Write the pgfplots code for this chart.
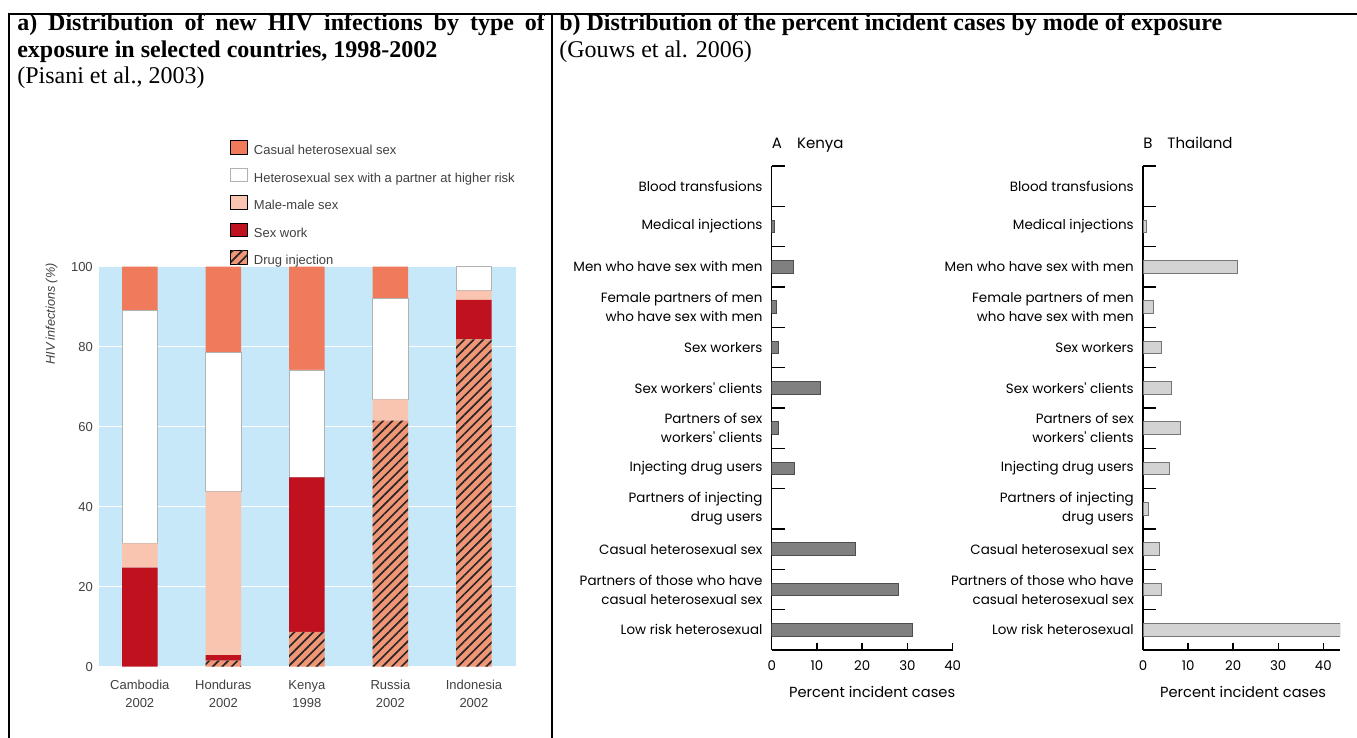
\documentclass[border=0pt]{standalone}
\usepackage{fontspec}
\setmainfont{Liberation Serif}
\newfontfamily\arialf{Liberation Sans}
\newfontfamily\futf{Poppins}
\usepackage{pgfplots}
\pgfplotsset{compat=1.18}
\usetikzlibrary{patterns.meta}
\definecolor{bgblue}{RGB}{199,232,248}
\definecolor{coral}{RGB}{240,122,92}
\definecolor{peach}{RGB}{249,196,176}
\definecolor{sexred}{RGB}{192,17,30}
\definecolor{hatchbg}{RGB}{240,150,118}
\definecolor{kgray}{RGB}{128,128,128}
\definecolor{kedge}{RGB}{78,78,78}
\definecolor{tgray}{RGB}{211,211,211}
\definecolor{tedge}{RGB}{118,118,118}
\newcommand\labfont{\futf\fontsize{10.1}{14.25}\selectfont}
\newcommand\numfont{\futf\fontsize{10}{12}\selectfont}
\newcommand\hdfont{\fontsize{18}{20.7}\selectfont}
\begin{document}
\begin{tikzpicture}
\path[use as bounding box] (0,0) rectangle (1017.75pt,553.5pt);
\begin{scope}[x=0.75pt,y=-0.75pt,shift={(0,553.5pt)}]
\draw[line width=1.5pt] (8,14) -- (1357,14);
\draw[line width=1.3pt] (9,13.5) -- (9,738);
\draw[line width=1.3pt] (552,13.5) -- (552,738);
\node[anchor=base west, inner sep=0pt, font=\hdfont\bfseries] at (17,31) {\makebox[395.8pt][s]{a) Distribution of new HIV infections by type of}};
\node[anchor=base west, inner sep=0pt, font=\hdfont\bfseries] at (17,57.5) {exposure in selected countries, 1998-2002};
\node[anchor=base west, inner sep=0pt, font=\hdfont] at (17,84) {(Pisani et al., 2003)};
\node[anchor=base west, inner sep=0pt, font=\hdfont\bfseries] at (559,31) {b) Distribution of the percent incident cases by mode of exposure};
\node[anchor=base west, inner sep=0pt, font=\hdfont] at (559,57.5) {(Gouws et al. 2006)};
\end{scope}

% ---------------- a) stacked bars
\begin{axis}[
  at={(74.25pt,53.475pt)}, anchor=south west,
  scale only axis, width=312.75pt, height=300pt,
  xmin=-0.488, xmax=4.503, ymin=0, ymax=100,
  ybar stacked, bar width=26.6pt,
  axis background/.style={fill=bgblue},
  axis line style={draw=none},
  tick style={draw=none}, major tick length=0pt,
  ytick={0,20,40,60,80,100},
  ymajorgrids, grid style={white, line width=1.2pt},
  xtick={0,1,2,3,4},
  xticklabels={{Cambodia\\2002},{Honduras\\2002},{Kenya\\1998},{Russia\\2002},{Indonesia\\2002}},
  /pgf/number format/assume math mode=true,
  tick label style={font=\arialf\fontsize{9.75}{13.7}\selectfont, text=black!75},
  xticklabel style={align=center, inner sep=0pt, yshift=-10pt},
  yticklabel style={inner sep=0pt, xshift=-4.5pt},
  ylabel={HIV infections (\%)},
  ylabel style={at={(axis description cs:-0.1134,0.8818)}, anchor=center, font=\arialf\itshape\fontsize{9.5}{11}\selectfont, text=black!75},
  reverse legend,
  legend cell align={left},
  legend image code/.code={\draw[#1] (0pt,-2pt) rectangle (12.75pt,8pt);},
  legend style={at={(axis description cs:0.31415,1.31675)}, anchor=north west, draw=none, fill=none, inner sep=0pt,
    font=\arialf\fontsize{9.75}{11}\selectfont, text=black!75, row sep=7.95pt, column sep=4.5pt,
    nodes={inner sep=0pt, text height=7pt, text depth=2pt}},
]
\addplot[fill=hatchbg, draw=none, postaction={pattern={Lines[angle=45,distance=5pt,line width=1.25pt]}, pattern color=black!85}]
  coordinates {(0,0) (1,1.5) (2,8.7) (3,61.5) (4,81.8)};
\addlegendentry{Drug injection}
\addplot[fill=sexred, draw=none]
  coordinates {(0,24.75) (1,1.4) (2,38.6) (3,0) (4,9.9)};
\addlegendentry{Sex work}
\addplot[fill=peach, draw=none]
  coordinates {(0,6.05) (1,40.85) (2,0) (3,5.35) (4,2.3)};
\addlegendentry{Male-male sex}
\addplot[fill=white, draw=black!30, line width=0.5pt]
  coordinates {(0,58.2) (1,34.85) (2,26.9) (3,25.15) (4,6.0)};
\addlegendentry{Heterosexual sex with a partner at higher risk}
\addplot[fill=coral, draw=none]
  coordinates {(0,11.0) (1,21.4) (2,25.8) (3,8.0) (4,0)};
\addlegendentry{Casual heterosexual sex}
\end{axis}

% ---------------- b) Kenya
\begin{axis}[
  at={(578.775pt,66pt)}, anchor=south west,
  scale only axis, width=135.75pt, height=363pt,
  xmin=0, xmax=40, ymin=-0.5, ymax=11.5,
  xbar, bar width=9.5pt,
  axis lines*=left, axis line style={line width=1.1pt, black},
  tick align=inside,
  xtick={0,10,20,30,40},
  ytick={0,1,2,3,4,5,6,7,8,9,10,11},
  minor ytick={0.5,1.5,2.5,3.5,4.5,5.5,6.5,7.5,8.5,9.5,10.5,11.5},
  major tick length=5pt, minor tick length=10pt,
  tick style={line width=1.1pt, black},
  major y tick style={draw=none},
  yticklabels={Low risk heterosexual,{Partners of those who have\\casual heterosexual sex},Casual heterosexual sex,{Partners of injecting\\drug users},Injecting drug users,{Partners of sex\\workers' clients},Sex workers' clients,Sex workers,{Female partners of men\\who have sex with men},Men who have sex with men,Medical injections,Blood transfusions},
  yticklabel style={align=right, font=\labfont, inner sep=0pt, xshift=-6.75pt},
  /pgf/number format/assume math mode=true,
  xticklabel style={font=\numfont, inner sep=0pt, yshift=-8pt},
  xlabel={Percent incident cases},
  xlabel style={at={(axis description cs:0.555,0)}, anchor=north, yshift=-27pt, inner sep=0pt, font=\futf\fontsize{11}{13}\selectfont},
  title={A\quad Kenya},
  title style={at={(axis description cs:0,1)}, anchor=base west, yshift=7.1pt, inner sep=0pt, font=\futf\fontsize{11.25}{13}\selectfont},
]
\addplot[fill=kgray, draw=kedge, line width=0.6pt]
  coordinates {(31.1,0) (28.0,1) (18.5,2) (5.1,4) (1.4,5) (10.7,6) (1.4,7) (1.0,8) (4.8,9) (0.7,10)};
\end{axis}

% ---------------- b) Thailand
\begin{axis}[
  at={(857.25pt,66pt)}, anchor=south west,
  scale only axis, width=147.75pt, height=363pt,
  xmin=0, xmax=43.7, ymin=-0.5, ymax=11.5,
  xbar, bar width=9.5pt,
  axis lines*=left, axis line style={line width=1.1pt, black},
  tick align=inside,
  xtick={0,10,20,30,40},
  ytick={0,1,2,3,4,5,6,7,8,9,10,11},
  minor ytick={0.5,1.5,2.5,3.5,4.5,5.5,6.5,7.5,8.5,9.5,10.5,11.5},
  major tick length=5pt, minor tick length=10pt,
  tick style={line width=1.1pt, black},
  major y tick style={draw=none},
  yticklabels={Low risk heterosexual,{Partners of those who have\\casual heterosexual sex},Casual heterosexual sex,{Partners of injecting\\drug users},Injecting drug users,{Partners of sex\\workers' clients},Sex workers' clients,Sex workers,{Female partners of men\\who have sex with men},Men who have sex with men,Medical injections,Blood transfusions},
  yticklabel style={align=right, font=\labfont, inner sep=0pt, xshift=-6.75pt},
  /pgf/number format/assume math mode=true,
  xticklabel style={font=\numfont, inner sep=0pt, yshift=-8pt},
  xlabel={Percent incident cases},
  xlabel style={at={(axis description cs:0.508,0)}, anchor=north, yshift=-27pt, inner sep=0pt, font=\futf\fontsize{11}{13}\selectfont},
  title={B\quad Thailand},
  title style={at={(axis description cs:0,1)}, anchor=base west, yshift=7.1pt, inner sep=0pt, font=\futf\fontsize{11.25}{13}\selectfont},
]
\addplot[fill=tgray, draw=tedge, line width=0.6pt]
  coordinates {(43.7,0) (4.1,1) (3.6,2) (1.3,3) (5.9,4) (8.4,5) (6.3,6) (4.1,7) (2.3,8) (21.0,9) (0.7,10)};
\end{axis}
\end{tikzpicture}
\end{document}
